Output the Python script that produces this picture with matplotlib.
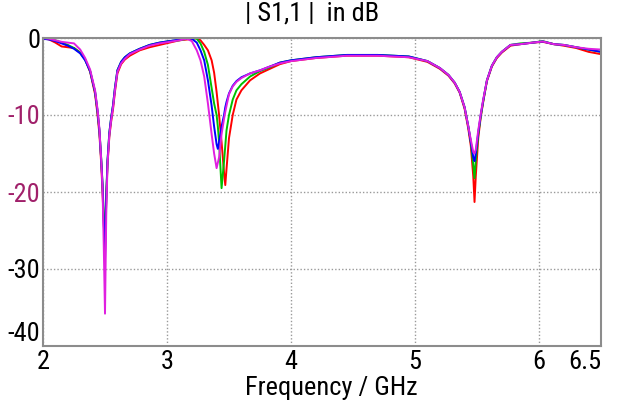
import matplotlib.pyplot as plt

# frequency grid (GHz) shared by the four traces
freq = [2.00, 2.05, 2.10, 2.15, 2.20, 2.25, 2.30, 2.34, 2.38, 2.42, 2.44, 2.455,
        2.47, 2.48, 2.49, 2.50, 2.51, 2.52, 2.535, 2.55, 2.565, 2.58, 2.60, 2.63,
        2.66, 2.70, 2.78, 2.86, 2.94, 3.02, 3.10, 3.16, 3.20, 3.24, 3.27, 3.30,
        3.33, 3.36, 3.38, 3.40, 3.41, 3.42, 3.44, 3.46, 3.47, 3.48, 3.50, 3.53,
        3.56, 3.60, 3.67, 3.75, 3.83, 3.91, 4.00, 4.20, 4.45, 4.70, 4.95, 5.10,
        5.20, 5.27, 5.32, 5.36, 5.40, 5.43, 5.45, 5.47, 5.48, 5.49, 5.51, 5.53,
        5.55, 5.58, 5.62, 5.66, 5.70, 5.77, 5.85, 5.95, 6.03, 6.12, 6.20, 6.30,
        6.40, 6.50]

s11_red = [0.0, -0.2, -0.6, -1.1, -1.2, -1.3, -1.9, -2.8, -4.4, -7.3, -10.0, -12.5,
           -16.5, -20.0, -24.0, -28.0, -21.0, -16.5, -12.8, -10.8, -9.2, -7.0, -4.6, -3.4,
           -2.8, -2.3, -1.6, -1.2, -0.9, -0.6, -0.3, -0.2, -0.1, 0.0, -0.3, -0.9,
           -1.6, -2.9, -4.5, -7.0, -8.5, -10.0, -13.5, -17.5, -19.1, -17.0, -13.0, -10.0,
           -8.0, -6.8, -5.5, -4.6, -4.0, -3.4, -3.0, -2.6, -2.3, -2.3, -2.5, -3.1,
           -4.0, -4.9, -5.9, -7.1, -9.2, -11.8, -14.0, -18.0, -21.3, -18.0, -13.0, -10.3,
           -8.3, -5.6, -3.7, -2.6, -1.9, -1.0, -0.8, -0.6, -0.5, -0.8, -1.0, -1.3,
           -1.8, -2.1]

s11_green = [0.0, -0.1, -0.3, -0.6, -0.9, -1.3, -1.9, -2.8, -4.3, -7.0, -9.6, -12.0,
             -15.8, -19.0, -23.0, -27.0, -20.5, -16.0, -12.3, -10.3, -8.7, -6.5, -4.2, -3.1,
             -2.5, -2.0, -1.4, -0.9, -0.6, -0.4, -0.3, -0.1, 0.0, -0.1, -0.7, -1.8,
             -3.5, -6.5, -8.5, -10.0, -11.5, -13.5, -19.5, -16.0, -14.0, -12.0, -10.0, -8.0,
             -6.8, -6.0, -5.0, -4.3, -3.8, -3.2, -2.9, -2.5, -2.2, -2.2, -2.4, -3.0,
             -3.9, -4.8, -5.8, -7.0, -9.0, -11.5, -13.5, -16.5, -18.2, -16.0, -12.5, -10.2,
             -8.2, -5.5, -3.6, -2.5, -1.8, -0.9, -0.7, -0.6, -0.4, -0.8, -0.9, -1.2,
             -1.5, -1.8]

s11_blue = [-0.1, -0.2, -0.4, -0.7, -1.0, -1.4, -2.0, -2.9, -4.3, -7.0, -9.5, -12.0,
            -16.0, -19.0, -24.0, -28.8, -21.0, -16.0, -12.3, -10.3, -8.7, -6.5, -4.2, -3.1,
            -2.5, -2.0, -1.4, -0.9, -0.6, -0.4, -0.2, -0.05, -0.1, -0.6, -1.6, -2.9,
            -5.5, -8.8, -11.5, -13.8, -14.4, -13.5, -11.5, -10.0, -9.0, -8.3, -7.2, -6.2,
            -5.6, -5.1, -4.6, -4.2, -3.7, -3.2, -2.9, -2.5, -2.2, -2.2, -2.4, -3.0,
            -3.9, -4.8, -5.8, -7.0, -9.0, -11.5, -13.5, -15.5, -16.0, -15.0, -12.3, -10.0,
            -8.1, -5.5, -3.6, -2.5, -1.8, -0.9, -0.8, -0.6, -0.45, -0.8, -0.9, -1.2,
            -1.5, -1.8]

s11_magenta = [0.0, -0.1, -0.3, -0.5, -0.6, -0.7, -1.5, -2.6, -4.1, -6.8, -9.3, -11.8,
               -16.0, -19.5, -27.0, -35.8, -23.0, -16.5, -12.6, -10.6, -9.0, -6.8, -4.4, -3.3,
               -2.7, -2.1, -1.5, -1.0, -0.7, -0.5, -0.3, -0.1, -0.4, -1.6, -2.9, -5.0,
               -8.5, -12.5, -15.0, -16.9, -16.2, -15.5, -12.5, -10.5, -9.6, -8.8, -7.3, -6.3,
               -5.7, -5.2, -4.6, -4.2, -3.7, -3.3, -3.0, -2.6, -2.3, -2.3, -2.5, -3.0,
               -3.9, -4.8, -5.8, -7.0, -9.0, -11.5, -13.2, -14.8, -15.0, -14.5, -12.0, -9.9,
               -8.0, -5.5, -3.6, -2.5, -1.8, -0.9, -0.8, -0.6, -0.45, -0.8, -0.9, -1.2,
               -1.4, -1.5]

x_ticks = [2, 3, 4, 5, 6, 6.5]
x_tick_labels = ['2', '3', '4', '5', '6', '6.5']
y_ticks = [0, -10, -20, -30, -40]
y_tick_labels = ['0', '-10', '-20', '-30', '-40']

plt.rcParams['font.family'] = ['Roboto Condensed', 'Liberation Sans Narrow',
                               'Liberation Sans', 'DejaVu Sans']

fig = plt.figure(figsize=(6.2, 4.0), dpi=100)
ax = fig.add_axes([43 / 620, 54 / 400, 558 / 620, 308 / 400])

ax.plot(freq, s11_red, color='#ff0000', linewidth=1.4)
ax.plot(freq, s11_green, color='#00c000', linewidth=1.4)
ax.plot(freq, s11_blue, color='#0000ff', linewidth=1.4)
ax.plot(freq, s11_magenta, color='#e020e0', linewidth=1.4)

ax.set_xlim(2, 6.5)
ax.set_ylim(-40, 0)
ax.set_xticks(x_ticks)
ax.set_xticklabels(x_tick_labels, fontsize=19)
ax.set_yticks(y_ticks)
ax.set_yticklabels(y_tick_labels, fontsize=19)
ax.tick_params(axis='x', length=0, pad=3)
ax.tick_params(axis='y', length=0, pad=2)
for lbl, txt in zip(ax.get_yticklabels(), y_tick_labels):
    if txt in ('-10', '-20'):
        lbl.set_color('#a0206a')
    if txt == '-40':
        lbl.set_verticalalignment('bottom')
ax.get_xticklabels()[-1].set_horizontalalignment('right')

ax.grid(True, color='#999999', linestyle=(0, (1, 1.5)), linewidth=1)
for sp in ax.spines.values():
    sp.set_color('#8c8c8c')
    sp.set_linewidth(1.5)

ax.set_xlabel('Frequency / GHz', fontsize=19)
ax.xaxis.set_label_coords(0.516, -0.098)
fig.text(0.503, 0.965, '| S1,1 |  in dB', fontsize=19, ha='center', va='center')

fig.savefig('out.png', dpi=100)
